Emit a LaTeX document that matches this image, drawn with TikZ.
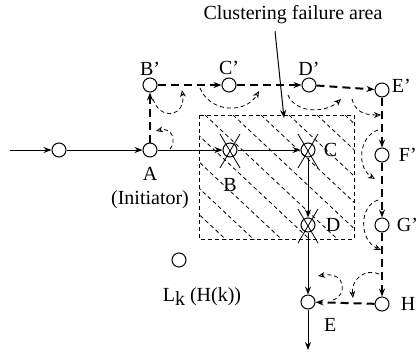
\documentclass[tikz,border=0pt]{standalone}
\usepackage{fontspec}
\setmainfont{Liberation Serif}
\usetikzlibrary{arrows.meta}

\tikzset{
  site/.style={circle,draw,line width=0.5pt,minimum size=7pt,inner sep=0pt},
  tag/.style={inner sep=1pt},
  msg/.style={line width=0.5pt,-{Stealth[length=4pt,width=3pt]}},
  detour/.style={line width=1pt,dash pattern=on 4pt off 2.5pt,-{Stealth[length=4pt,width=3pt]}},
  sweep/.style={line width=0.4pt,dash pattern=on 2pt off 1.5pt,-{Stealth[open,length=3.5pt,width=3pt]}},
  hatch/.style={line width=0.4pt,dash pattern=on 2pt off 1.5pt},
}

\begin{document}
\begin{tikzpicture}[x=0.5pt,y=-0.5pt]
  \useasboundingbox (0,0) rectangle (417,354);

  % failure area
  \draw[hatch] (199,115) rectangle (354,239);
  \begin{scope}
    \clip (199,115) rectangle (354,239);
    \foreach \s in {93,121,...,345}
      \draw[hatch] (\s,115) -- ++(160,150);
  \end{scope}
  \node (cfa) at (293,15) {Clustering failure area};
  \coordinate (cfatip) at (284,118);
  \draw[msg] ([xshift=-9pt]cfa.south) -- (cfatip);

  % sites
  \node[site] (src) at (59,150) {};
  \node[site,label={[tag,align=center,label distance=3.5pt]below:A\\(Initiator)}] (a) at (150,150) {};
  \node[site,label={[tag,label distance=9pt]below:B}] (b) at (230,150) {};
  \node[site,label={[tag,label distance=3pt]right:C}] (c) at (308,150) {};
  \node[site,label={[tag,label distance=4pt]right:D}] (d) at (308,225) {};
  \node[site,label={[tag,label distance=6pt]below right:E}] (e) at (308,302) {};
  \node[site,label={[tag]above:B'}] (bp) at (150,85) {};
  \node[site,label={[tag]above:C'}] (cp) at (229,85) {};
  \node[site,label={[tag]above:D'}] (dp) at (309,85) {};
  \node[site,label={[tag,yshift=2pt]right:E'}] (ep) at (382,90) {};
  \node[site,label={[tag,label distance=3.5pt]right:F'}] (fp) at (382,155) {};
  \node[site,label={[tag,label distance=2.5pt]right:G'}] (gp) at (382,225) {};
  \node[site,label={[tag,label distance=4.5pt]right:H}] (h) at (382,304) {};
  \node[site,label={[tag,label distance=9pt,xshift=11.5pt]below:L\raisebox{-0.4ex}{k} (H(k))}] (lk) at (179,260) {};

  % normal route
  \coordinate (in) at (10,150);
  \coordinate (out) at (308,350);
  \draw[msg] (in) -- (src);
  \draw[msg] (src) -- (a);
  \draw[msg] (a) -- (b);
  \draw[msg] (b) -- (c);
  \draw[msg] (c) -- (d);
  \draw[msg] (d) -- (e);
  \draw[msg] (e) -- (out);

  % failed sites
  \foreach \n in {b,c,d}
    \draw[line width=0.4pt] (\n) +(-10,-16) -- +(10,18) +(10,-16) -- +(-10,18);

  % detour around the area
  \foreach \u/\v in {a/bp,bp/cp,cp/dp,dp/ep,ep/fp,fp/gp,gp/h,h/e}
    \draw[detour] (\u) -- (\v);

  % right hand sweeps
  \draw[sweep] (170,149) .. controls (177,141) and (172,127) .. (156,131);
  \draw[sweep] (153,99) .. controls (160,121) and (186,117) .. (182,90);
  \draw[sweep] (200,88) .. controls (210,113) and (246,114) .. (259,91);
  \draw[sweep] (288,95) .. controls (296,114) and (326,113) .. (341,99);
  \draw[sweep] (352,99) .. controls (355,111) and (363,115) .. (381,115);
  \draw[sweep] (378,130) .. controls (358,137) and (357,168) .. (375,179);
  \draw[sweep] (378,200) .. controls (359,206) and (359,240) .. (381,250);
  \draw[sweep] (379,274) .. controls (364,268) and (351,280) .. (353,298);
  \draw[sweep] (333,300) .. controls (347,296) and (347,271) .. (318,276);
\end{tikzpicture}
\end{document}
